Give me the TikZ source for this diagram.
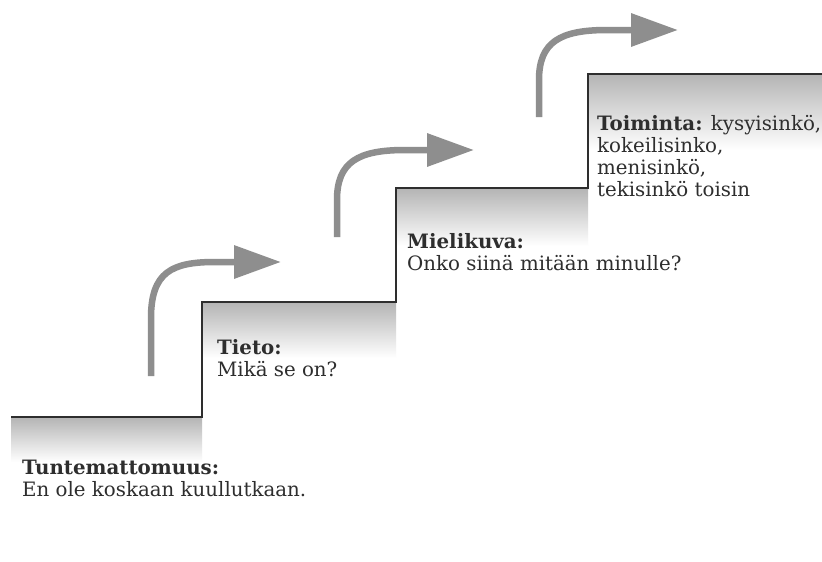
\documentclass[tikz,border=0pt]{standalone}
\usepackage{fontspec}
\setmainfont{DejaVu Serif}
\usetikzlibrary{arrows.meta}
\definecolor{inkc}{HTML}{2E2E2E}
\definecolor{arrowc}{HTML}{8E8E8E}
\definecolor{shadec}{HTML}{B4B4B4}
\tikzset{
  stair/.style={draw=inkc, line width=1.6pt, line join=miter},
  shadebox/.style={top color=shadec, bottom color=white, draw=none},
  bigarrow/.style={draw=arrowc, line width=6.5pt, -{Triangle[length=47pt,width=32pt,fill=arrowc]}},
  lbl/.style={anchor=base west, inner sep=0pt, text=inkc, font=\fontsize{19.8}{22}\selectfont},
}
\begin{document}
\begin{tikzpicture}[x=1pt,y=-1pt]
\useasboundingbox (0,0) rectangle (822,562);
\fill[white] (0,0) rectangle (822,562);
% shading under steps
\shade[shadebox] (11,417) rectangle (202,462);
\shade[shadebox] (202,302) rectangle (396,358);
\shade[shadebox] (396,188) rectangle (588,246);
\shade[shadebox] (588,74) rectangle (822,150);
% staircase
\coordinate (s0) at (11,417);
\coordinate (s1) at (202,417);
\coordinate (s2) at (202,302);
\coordinate (s3) at (396,302);
\coordinate (s4) at (396,188);
\coordinate (s5) at (588,188);
\coordinate (s6) at (588,74);
\coordinate (s7) at (822,74);
\draw[stair] (s0) -- (s1) -- (s2) -- (s3) -- (s4) -- (s5) -- (s6) -- (s7);
% arrows
\coordinate (a1s) at (151,376);
\coordinate (a1e) at (281,262);
\draw[bigarrow] (a1s) -- (151,318) .. controls (151,272) and (172,262) .. (215,262) -- (a1e);
\coordinate (a2s) at (337,237);
\coordinate (a2e) at (474,150);
\draw[bigarrow] (a2s) -- (337,200) .. controls (337,162) and (358,150) .. (405,150) -- (a2e);
\coordinate (a3s) at (539,117);
\coordinate (a3e) at (678,30);
\draw[bigarrow] (a3s) -- (539,80) .. controls (539,42) and (560,30) .. (607,30) -- (a3e);
% labels
\node[lbl] (t1) at (22,474) {\textbf{Tuntemattomuus:}};
\node[lbl] (t2) at (22,496) {En ole koskaan kuullutkaan.};
\node[lbl] (t3) at (217,354) {\textbf{Tieto:}};
\node[lbl] (t4) at (217,376) {Mikä se on?};
\node[lbl] (t5) at (407,248) {\textbf{Mielikuva:}};
\node[lbl] (t6) at (407,270) {Onko siinä mitään minulle?};
\node[lbl] (t7) at (597,130) {\textbf{Toiminta:} kysyisinkö,};
\node[lbl] (t8) at (597,152) {kokeilisinko,};
\node[lbl] (t9) at (597,174) {menisinkö,};
\node[lbl] (t10) at (597,196) {tekisinkö toisin};
\end{tikzpicture}
\end{document}
